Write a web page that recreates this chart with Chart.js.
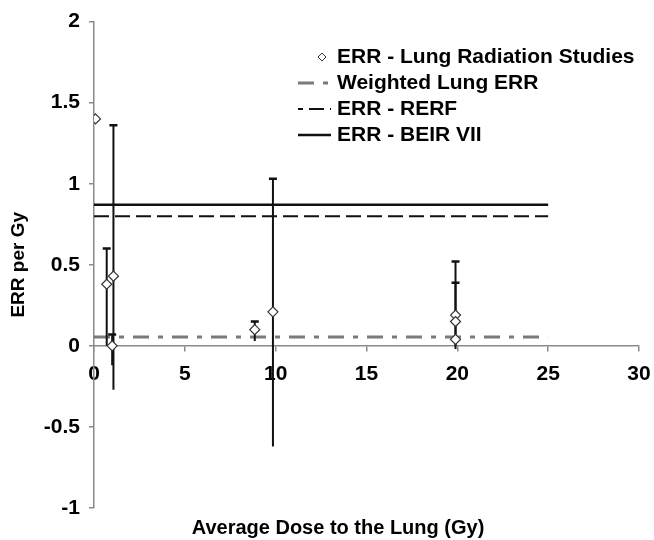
<!DOCTYPE html>
<html><head><meta charset="utf-8">
<script src="https://cdn.jsdelivr.net/npm/chart.js@4.4.1/dist/chart.umd.min.js"></script>
<style>html,body{margin:0;padding:0;background:#fff;} canvas{display:block;}</style>
</head><body>
<canvas id="c" width="654" height="540"></canvas>
<script>
// ---- data ----
const studyX = [0.08, 0.7, 1.07, 1.0, 8.85, 9.85, 19.9, 19.9, 19.9];
const studyY = [1.40, 0.38, 0.43, 0.0, 0.10, 0.21, 0.19, 0.15, 0.04];
const errX    = [0.7, 1.07, 1.0, 8.85, 9.85, 19.9, 19.9];
const errLow  = [0.0, -0.27, -0.12, 0.03, -0.62, -0.02, 0.0];
const errHigh = [0.60, 1.36, 0.07, 0.15, 1.03, 0.52, 0.39];
const refX = [0, 25];
const weightedERR = [0.055, 0.055];
const rerfERR = [0.80, 0.80];
const beirERR = [0.87, 0.87];
const seriesLabels = ['ERR - Lung Radiation Studies', 'Weighted Lung ERR', 'ERR - RERF', 'ERR - BEIR VII'];
const xTickValues = [0, 5, 10, 15, 20, 25, 30];
const xTickLabels = ['0', '5', '10', '15', '20', '25', '30'];
const yTickValues = [-1, -0.5, 0, 0.5, 1, 1.5, 2];
const yTickLabels = ['-1', '-0.5', '0', '0.5', '1', '1.5', '2'];
const xTitle = 'Average Dose to the Lung (Gy)';
const yTitle = 'ERR per Gy';

const FONT = '"Liberation Sans", Arial, sans-serif';
Chart.defaults.font.family = FONT;
Chart.defaults.font.weight = 'bold';
Chart.defaults.color = '#000';

const AXIS = '#8a8a8a';

const pts = (xs, ys) => xs.map((x, i) => ({x: x, y: ys[i]}));

const datasets = [];
datasets.push({
  type: 'scatter', label: seriesLabels[0], data: pts(studyX, studyY),
  pointStyle: 'rectRot', pointRadius: 5, pointHoverRadius: 5,
  backgroundColor: '#fff', borderColor: '#333', borderWidth: 1.2,
  legendRow: 0, legendKind: 'point'
});
errX.forEach((x, i) => {
  datasets.push({
    type: 'line', label: '', data: [{x: x, y: errLow[i]}, {x: x, y: errHigh[i]}],
    borderColor: '#111', borderWidth: 2, showLine: true,
    pointStyle: 'line', pointRadius: [0, 4], pointHoverRadius: [0, 4],
    pointBorderColor: '#111', pointBorderWidth: 2.5, fill: false
  });
});
datasets.push({
  type: 'line', label: seriesLabels[1], data: pts(refX, weightedERR),
  borderColor: '#7a7a7a', borderWidth: 3, borderDash: [16, 9, 5, 9], pointRadius: 0,
  legendRow: 1, legendKind: 'line', legendDashOffset: 0
});
datasets.push({
  type: 'line', label: seriesLabels[2], data: pts(refX, rerfERR),
  borderColor: '#111', borderWidth: 2, borderDash: [15, 6], pointRadius: 0,
  legendRow: 2, legendKind: 'line', legendDashOffset: 10
});
datasets.push({
  type: 'line', label: seriesLabels[3], data: pts(refX, beirERR),
  borderColor: '#111', borderWidth: 2.5, pointRadius: 0,
  legendRow: 3, legendKind: 'line', legendDashOffset: 0
});

const legendPlugin = {
  id: 'sideLegend',
  afterDraw(chart, args, o) {
    const ctx = chart.ctx;
    ctx.save();
    ctx.font = 'bold 21px ' + FONT;
    ctx.textBaseline = 'middle';
    ctx.textAlign = 'left';
    chart.data.datasets.forEach(ds => {
      if (ds.legendRow === undefined) return;
      const y = o.top + ds.legendRow * o.rowGap;
      if (ds.legendKind === 'point') {
        ctx.fillStyle = '#fff';
        ctx.strokeStyle = ds.borderColor;
        ctx.lineWidth = 1;
        Chart.helpers.drawPoint(ctx, {pointStyle: 'rectRot', radius: 4, borderWidth: 1, rotation: 0}, o.symbolX, y);
      } else {
        ctx.beginPath();
        ctx.strokeStyle = ds.borderColor;
        ctx.lineWidth = ds.borderWidth;
        ctx.setLineDash(ds.borderDash || []);
        ctx.lineDashOffset = ds.legendDashOffset || 0;
        ctx.moveTo(o.lineX0, y);
        ctx.lineTo(o.lineX1, y);
        ctx.stroke();
        ctx.setLineDash([]);
      }
      ctx.fillStyle = '#000';
      ctx.fillText(ds.label, o.textX, y);
    });
    ctx.restore();
  }
};

new Chart(document.getElementById('c'), {
  data: {datasets: datasets},
  plugins: [legendPlugin],
  options: {
    responsive: false, animation: false, devicePixelRatio: 1,
    layout: {padding: {left: 37, right: 15, top: 20, bottom: 0}},
    plugins: {
      legend: {display: false},
      tooltip: {enabled: false},
      title: {display: true, position: 'bottom', text: xTitle, color: '#000',
        font: {size: 20, weight: 'bold', lineHeight: 1.2}, padding: {top: 8, bottom: 0}},
      sideLegend: {top: 57, rowGap: 26, symbolX: 322, lineX0: 298, lineX1: 331, textX: 337}
    },
    scales: {
      x: {
        type: 'linear', position: {y: 0}, min: 0, max: 30,
        afterBuildTicks: s => { s.ticks = xTickValues.map(v => ({value: v})); },
        afterFit: s => { s.paddingLeft = 0; s.paddingRight = 0; },
        ticks: {callback: (v) => xTickLabels[xTickValues.indexOf(v)], font: {size: 21, weight: 'bold'}, padding: 11, color: '#000', maxRotation: 0, autoSkip: false},
        grid: {drawOnChartArea: false, drawTicks: true, tickLength: 5, color: AXIS, lineWidth: 1.5},
        border: {display: true, color: AXIS, width: 1.5}
      },
      y: {
        type: 'linear', position: 'left', min: -1, max: 2,
        afterBuildTicks: s => { s.ticks = yTickValues.map(v => ({value: v})); },
        afterFit: s => { s.width = 57; },
        ticks: {callback: (v) => yTickLabels[yTickValues.indexOf(v)], font: {size: 21, weight: 'bold'}, padding: 9, color: '#000', autoSkip: false},
        grid: {drawOnChartArea: false, drawTicks: true, tickLength: 5, color: AXIS, lineWidth: 1.5},
        border: {display: true, color: AXIS, width: 1.5},
        title: {display: true, text: yTitle, color: '#000', font: {size: 19, weight: 'bold', lineHeight: 1.2}, padding: {top: -30, bottom: 0}}
      }
    }
  }
});
</script>
</body></html>
